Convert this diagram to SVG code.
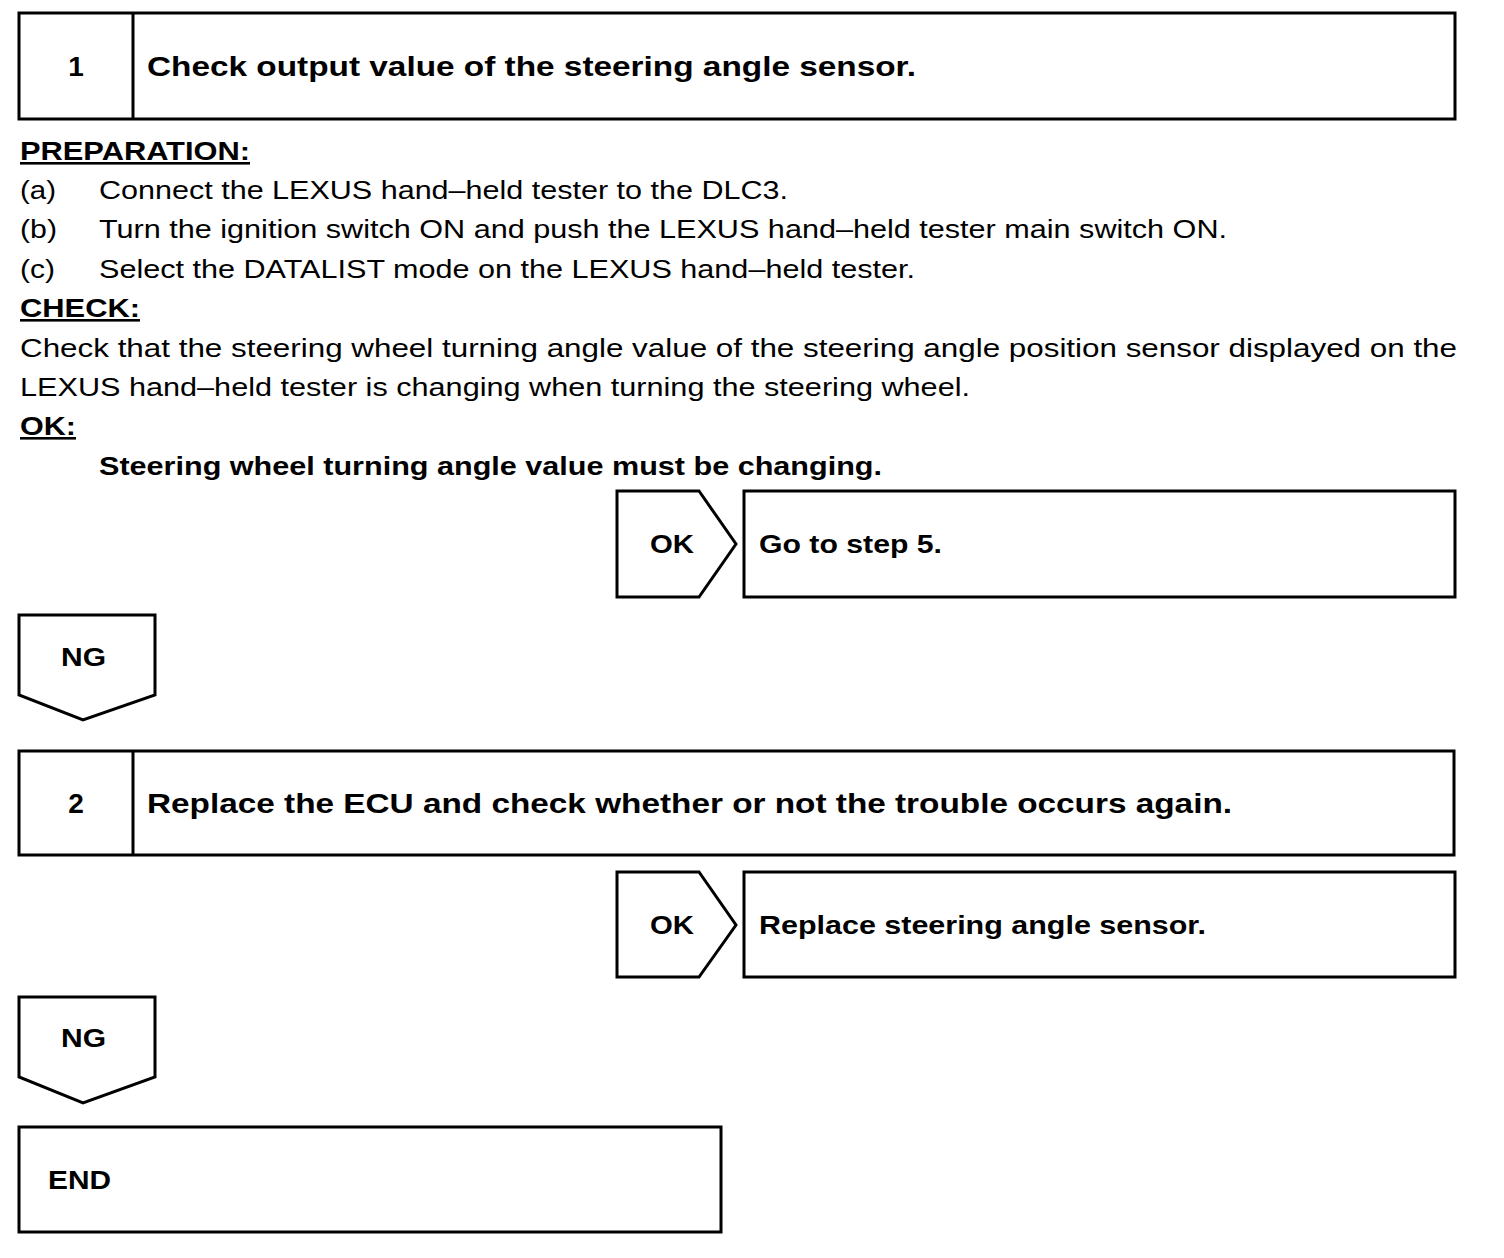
<svg xmlns="http://www.w3.org/2000/svg" width="1504" height="1258" viewBox="0 0 1504 1258">
<style>
.box{fill:#fff;stroke:#000;stroke-width:3}
.t{font-family:"Liberation Sans",Arial,sans-serif;font-size:26px;fill:#000}
.b{font-family:"Liberation Sans",Arial,sans-serif;font-weight:bold;font-size:26px;fill:#000}
.h{font-family:"Liberation Sans",Arial,sans-serif;font-weight:bold;font-size:28px;fill:#000}
.u{text-decoration:underline}
</style>
<rect width="1504" height="1258" fill="#fff"/>
<g id="step1">
<rect class="box" x="19" y="13" width="1436" height="106"/>
<line x1="133" y1="13" x2="133" y2="119" stroke="#000" stroke-width="3"/>
<text class="h" x="76" y="76" text-anchor="middle">1</text>
<text class="h" x="147" y="76" textLength="769" lengthAdjust="spacingAndGlyphs">Check output value of the steering angle sensor.</text>
</g>
<g id="text1">
<text class="b u" x="20" y="160" textLength="230" lengthAdjust="spacingAndGlyphs">PREPARATION:</text>
<text class="t" x="20" y="199" textLength="36" lengthAdjust="spacingAndGlyphs">(a)</text><text class="t" x="99" y="199" textLength="689" lengthAdjust="spacingAndGlyphs">Connect the LEXUS hand–held tester to the DLC3.</text>
<text class="t" x="20" y="238" textLength="37" lengthAdjust="spacingAndGlyphs">(b)</text><text class="t" x="99" y="238" textLength="1128" lengthAdjust="spacingAndGlyphs">Turn the ignition switch ON and push the LEXUS hand–held tester main switch ON.</text>
<text class="t" x="20" y="278" textLength="35" lengthAdjust="spacingAndGlyphs">(c)</text><text class="t" x="99" y="278" textLength="816" lengthAdjust="spacingAndGlyphs">Select the DATALIST mode on the LEXUS hand–held tester.</text>
<text class="b u" x="20" y="317" textLength="120" lengthAdjust="spacingAndGlyphs">CHECK:</text>
<text class="t" x="20" y="357" textLength="1437" lengthAdjust="spacingAndGlyphs">Check that the steering wheel turning angle value of the steering angle position sensor displayed on the</text>
<text class="t" x="20" y="396" textLength="950" lengthAdjust="spacingAndGlyphs">LEXUS hand–held tester is changing when turning the steering wheel.</text>
<text class="b u" x="20" y="435" textLength="56" lengthAdjust="spacingAndGlyphs">OK:</text>
<text class="b" x="99" y="475" textLength="783" lengthAdjust="spacingAndGlyphs">Steering wheel turning angle value must be changing.</text>
</g>
<g id="ok1">
<polygon class="box" points="617,491 699,491 736,544 699,597 617,597"/>
<text class="b" x="650" y="553" textLength="44" lengthAdjust="spacingAndGlyphs">OK</text>
</g>
<g id="res1">
<rect class="box" x="744" y="491" width="711" height="106"/>
<text class="b" x="759" y="553" textLength="183" lengthAdjust="spacingAndGlyphs">Go to step 5.</text>
</g>
<g id="ng1">
<polygon class="box" points="19,615 155,615 155,695 83,720 19,695"/>
<text class="b" x="61" y="666" textLength="45" lengthAdjust="spacingAndGlyphs">NG</text>
</g>
<g id="step2">
<rect class="box" x="19" y="751" width="1435" height="104"/>
<line x1="133" y1="751" x2="133" y2="855" stroke="#000" stroke-width="3"/>
<text class="h" x="76" y="813" text-anchor="middle">2</text>
<text class="h" x="147" y="813" textLength="1085" lengthAdjust="spacingAndGlyphs">Replace the ECU and check whether or not the trouble occurs again.</text>
</g>
<g id="ok2">
<polygon class="box" points="617,872 699,872 736,925 699,977 617,977"/>
<text class="b" x="650" y="934" textLength="44" lengthAdjust="spacingAndGlyphs">OK</text>
</g>
<g id="res2">
<rect class="box" x="744" y="872" width="711" height="105"/>
<text class="b" x="759" y="934" textLength="447" lengthAdjust="spacingAndGlyphs">Replace steering angle sensor.</text>
</g>
<g id="ng2">
<polygon class="box" points="19,997 155,997 155,1077 83,1103 19,1077"/>
<text class="b" x="61" y="1047" textLength="45" lengthAdjust="spacingAndGlyphs">NG</text>
</g>
<g id="end">
<rect class="box" x="19" y="1127" width="702" height="105"/>
<text class="b" x="48" y="1189" textLength="63" lengthAdjust="spacingAndGlyphs">END</text>
</g>
<g id="connectors"></g>
</svg>
